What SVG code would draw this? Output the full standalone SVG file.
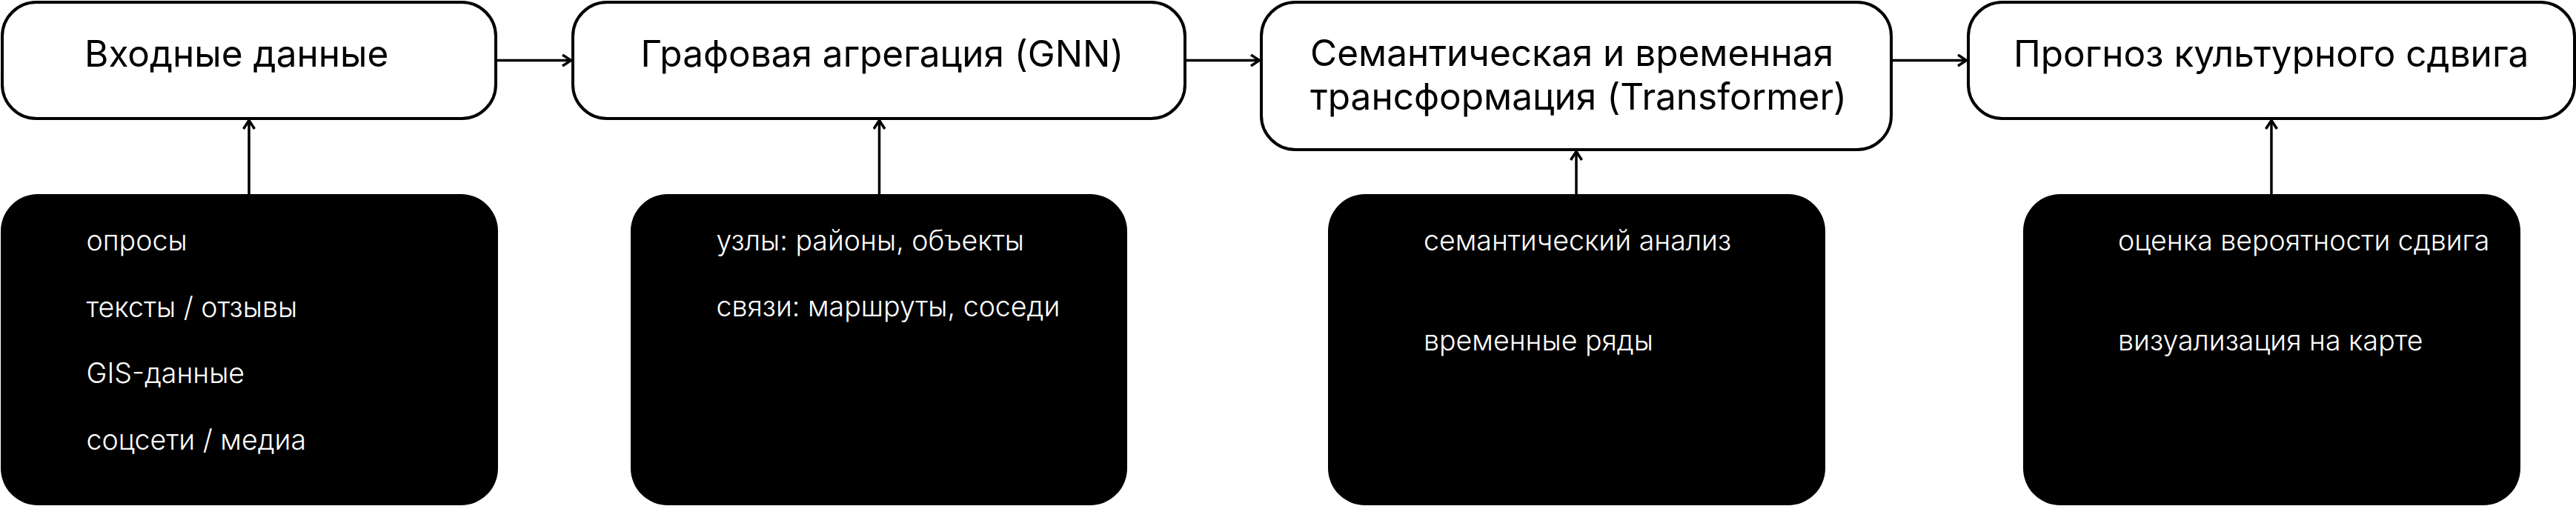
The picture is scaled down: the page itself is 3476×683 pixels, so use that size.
<svg xmlns="http://www.w3.org/2000/svg" width="3476" height="683" viewBox="0 0 3476 683">
<style>
.box{fill:#fff;stroke:#000;stroke-width:4}
.dark{fill:#000}
.title{font-family:Inter,"Noto Sans","Liberation Sans",sans-serif;font-size:49.5px;fill:#000}
.item{font-family:Inter,"Noto Sans","Liberation Sans",sans-serif;font-size:37.5px;font-weight:300;fill:#fff}
.conn{stroke:#000;stroke-width:3.5;fill:none}
</style>
<defs>
<marker id="arr" viewBox="0 0 14 18" refX="13" refY="9" markerWidth="14" markerHeight="18" markerUnits="userSpaceOnUse" orient="auto">
<path d="M1,1.5 L12.5,9 L1,16.5" fill="none" stroke="#000" stroke-width="3.5"/>
</marker>
</defs>
<g id="connectors">
<line class="conn" x1="671" y1="81.5" x2="771" y2="81.5" marker-end="url(#arr)"/>
<line class="conn" x1="1601" y1="81.5" x2="1700" y2="81.5" marker-end="url(#arr)"/>
<line class="conn" x1="2554" y1="81.5" x2="2654" y2="81.5" marker-end="url(#arr)"/>
<line class="conn" x1="336" y1="262" x2="336" y2="162" marker-end="url(#arr)"/>
<line class="conn" x1="1186.5" y1="262" x2="1186.5" y2="162" marker-end="url(#arr)"/>
<line class="conn" x1="2127" y1="262" x2="2127" y2="204" marker-end="url(#arr)"/>
<line class="conn" x1="3065" y1="262" x2="3065" y2="162" marker-end="url(#arr)"/>
</g>
<g id="input">
<rect class="box" x="3" y="3" width="666" height="157" rx="46"/>
<text class="title" x="114" y="90">Входные данные</text>
</g>
<g id="gnn">
<rect class="box" x="773" y="3" width="826" height="157" rx="46"/>
<text class="title" x="864.5" y="90">Графовая агрегация (GNN)</text>
</g>
<g id="transformer">
<rect class="box" x="1702" y="3" width="850" height="199" rx="46"/>
<text class="title" x="1768" y="89">Семантическая и временная</text>
<text class="title" x="1768" y="148">трансформация (Transformer)</text>
</g>
<g id="forecast">
<rect class="box" x="2656" y="3" width="818" height="157" rx="46"/>
<text class="title" x="2717" y="90">Прогноз культурного сдвига</text>
</g>
<g id="input-details">
<rect class="dark" x="1" y="262" width="671" height="420" rx="50"/>
<text class="item" x="116.5" y="338">опросы</text>
<text class="item" x="116.5" y="428">тексты / отзывы</text>
<text class="item" x="116.5" y="517">GIS-данные</text>
<text class="item" x="116.5" y="607">соцсети / медиа</text>
</g>
<g id="gnn-details">
<rect class="dark" x="851" y="262" width="670" height="420" rx="50"/>
<text class="item" x="966.5" y="337.5">узлы: районы, объекты</text>
<text class="item" x="966.5" y="427">связи: маршруты, соседи</text>
</g>
<g id="transformer-details">
<rect class="dark" x="1792" y="262" width="671" height="420" rx="50"/>
<text class="item" x="1921" y="337.5">семантический анализ</text>
<text class="item" x="1921" y="472.5">временные ряды</text>
</g>
<g id="forecast-details">
<rect class="dark" x="2730" y="262" width="671" height="420" rx="50"/>
<text class="item" x="2858" y="337.5">оценка вероятности сдвига</text>
<text class="item" x="2858" y="472.5">визуализация на карте</text>
</g>
</svg>
